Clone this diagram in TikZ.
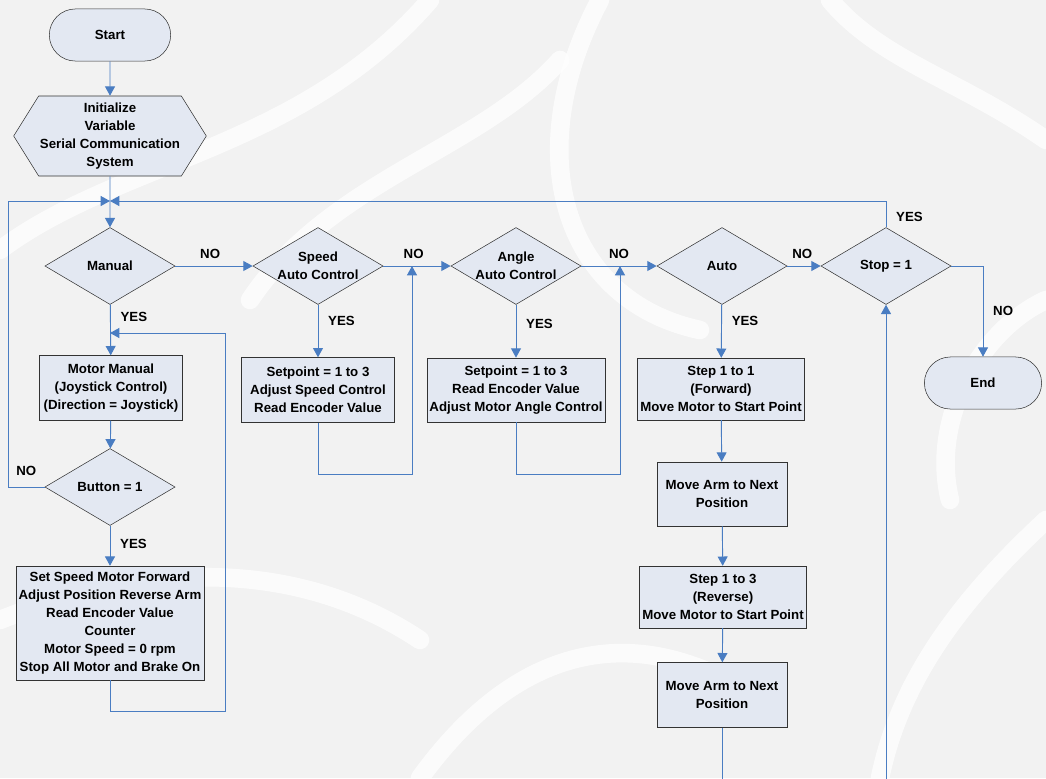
\documentclass[tikz,border=0pt]{standalone}
\usepackage{fontspec}
\setmainfont{Liberation Sans}
\usepackage{tikz}
\usetikzlibrary{shapes.misc, shapes.geometric, shapes.symbols, arrows.meta}
\usepackage{xcolor}
\definecolor{flowblue}{rgb}{0.29, 0.49, 0.76}
\definecolor{boxfill}{rgb}{0.89, 0.91, 0.95}
\definecolor{paper}{rgb}{0.95, 0.95, 0.95}

\begin{document}
\begin{tikzpicture}[x=0.265mm, y=-0.265mm,
        every node/.style={font=\fontsize{10}{13.5}\selectfont\bfseries, align=center},
        terminal/.style={rounded rectangle, draw=black!80, fill=boxfill, thin, minimum height=1.38cm},
        prep/.style={signal, signal to=east and west, signal pointer angle=116, draw=black!80, fill=boxfill, thin,
            minimum width=5cm, minimum height=2.12cm, inner sep=1pt},
        decision/.style={diamond, draw=black!80, fill=boxfill, thin, aspect=1.69,
            minimum width=3.45cm, minimum height=2.04cm, inner sep=0pt},
        process/.style={rectangle, draw=black!80, fill=boxfill, thin, inner sep=2pt},
        flow/.style={flowblue, line width=0.7pt, -{Triangle[width=7.5pt, length=7pt]}},
        answer/.style={text=black, font=\fontsize{10}{12}\selectfont\bfseries}]

        % Page and background swirls
        \fill[paper] (0,0) rectangle (1046,778);
        \useasboundingbox (0,0) rectangle (1046,778);
        \begin{scope}[white, opacity=0.75, line width=14pt, line cap=round]
            \draw (0,250) .. controls (120,160) and (300,150) .. (430,0);
            \draw (250,300) .. controls (330,180) and (480,150) .. (560,60);
            \draw (600,0) .. controls (520,150) and (560,300) .. (700,330);
            \draw (1046,140) .. controls (960,80) and (880,60) .. (830,0);
            \draw (0,620) .. controls (150,560) and (300,560) .. (420,640);
            \draw (420,778) .. controls (520,640) and (640,620) .. (760,700);
            \draw (1046,520) .. controls (960,600) and (900,680) .. (880,778);
            \draw (1046,300) .. controls (980,330) and (930,420) .. (950,500);
        \end{scope}

        % Left column: manual mode
        \node[terminal, minimum width=3.45cm] (start) at (110,35) {Start};
        \node[prep] (init) at (110,136) {Initialize\\Variable\\Serial Communication\\System};
        \node[decision] (manual) at (110,266) {Manual};
        \node[process, minimum width=3.79cm, minimum height=1.72cm] (motor) at (111,388)
            {Motor Manual\\(Joystick Control)\\(Direction = Joystick)};
        \node[decision] (button) at (110,487) {Button = 1};
        \node[process, minimum width=4.93cm, minimum height=3.02cm] (reset) at (110,623)
            {Set Speed Motor Forward\\Adjust Position Reverse Arm\\Read Encoder Value\\Counter\\Motor Speed = 0 rpm\\Stop All Motor and Brake On};

        % Middle columns: closed loop control
        \node[decision] (speed) at (318,266) {Speed\\Auto Control};
        \node[process, minimum width=4.05cm, minimum height=1.72cm] (speedset) at (318,390)
            {Setpoint = 1 to 3\\Adjust Speed Control\\Read Encoder Value};
        \node[decision] (angle) at (516,266) {Angle\\Auto Control};
        \node[process, minimum width=4.66cm, minimum height=1.70cm] (angleset) at (516,390)
            {Setpoint = 1 to 3\\Read Encoder Value\\Adjust Motor Angle Control};

        % Automatic sequence
        \node[decision] (auto) at (722,266) {Auto};
        \node[process, minimum width=4.35cm, minimum height=1.64cm] (step1) at (721,389)
            {Step 1 to 1\\(Forward)\\Move Motor to Start Point};
        \node[process, minimum width=3.45cm, minimum height=1.70cm] (move1) at (722,494)
            {Move Arm to Next\\Position};
        \node[process, minimum width=4.35cm, minimum height=1.64cm] (step2) at (723,597)
            {Step 1 to 3\\(Reverse)\\Move Motor to Start Point};
        \node[process, minimum width=3.45cm, minimum height=1.72cm] (move2) at (722,695)
            {Move Arm to Next\\Position};

        % Exit test
        \node[decision] (stop) at (886,266) {Stop = 1};
        \node[terminal, minimum width=3.34cm] (end) at (983,383) {End};

        % Junctions
        \coordinate (top) at (110,201);
        \coordinate (back) at (110,333);

        % Main trunk
        \draw[flow] (start) -- (init);
        \draw[flow] (init) -- (manual);
        \draw[flow] (manual) -- node[answer, pos=0.45, above=2pt] {NO} (speed);
        \draw[flow] (speed) -- node[answer, pos=0.45, above=2pt] {NO} (angle);
        \draw[flow] (angle) -- node[answer, pos=0.5, above=2pt] {NO} (auto);
        \draw[flow] (auto) -- node[answer, pos=0.45, above=2pt] {NO} (stop);
        \draw[flow] (stop.east) -| node[answer, pos=0.75, right=4pt] {NO} (end.north);

        % Manual branch
        \draw[flow] (manual) -- node[answer, pos=0.25, right=4pt] {YES} (motor);
        \draw[flow] (motor) -- (button);
        \draw[flow] (button) -- node[answer, pos=0.45, right=4pt] {YES} (reset);
        \draw[flow] (reset.south) -- (110,711) -- (225,711) -- (225,333) -- (back);
        \draw[flow] (button.west) -- node[answer, pos=0.5, above=5pt] {NO} (8,487) -- (8,201) -- (top);

        % Control branches
        \draw[flow] (speed) -- node[answer, pos=0.3, right=4pt] {YES} (speedset);
        \draw[flow] (speedset.south) -- (318,474) -- (412,474) -- (412,266);
        \draw[flow] (angle) -- node[answer, pos=0.37, right=4pt] {YES} (angleset);
        \draw[flow] (angleset.south) -- (516,474) -- (620,474) -- (620,266);

        % Sequence branch
        \draw[flow] (auto) -- node[answer, pos=0.3, right=4pt] {YES} (step1);
        \draw[flow] (step1) -- (move1);
        \draw[flow] (move1) -- (step2);
        \draw[flow] (step2) -- (move2);
        \draw[flow] (move2.south) -- (722,800) -- (886,800) -- (stop.south);
        \draw[flow] (stop.north) -- node[answer, pos=0.4, right=4pt] {YES} (886,201) -- (top);
    \end{tikzpicture}
\end{document}
